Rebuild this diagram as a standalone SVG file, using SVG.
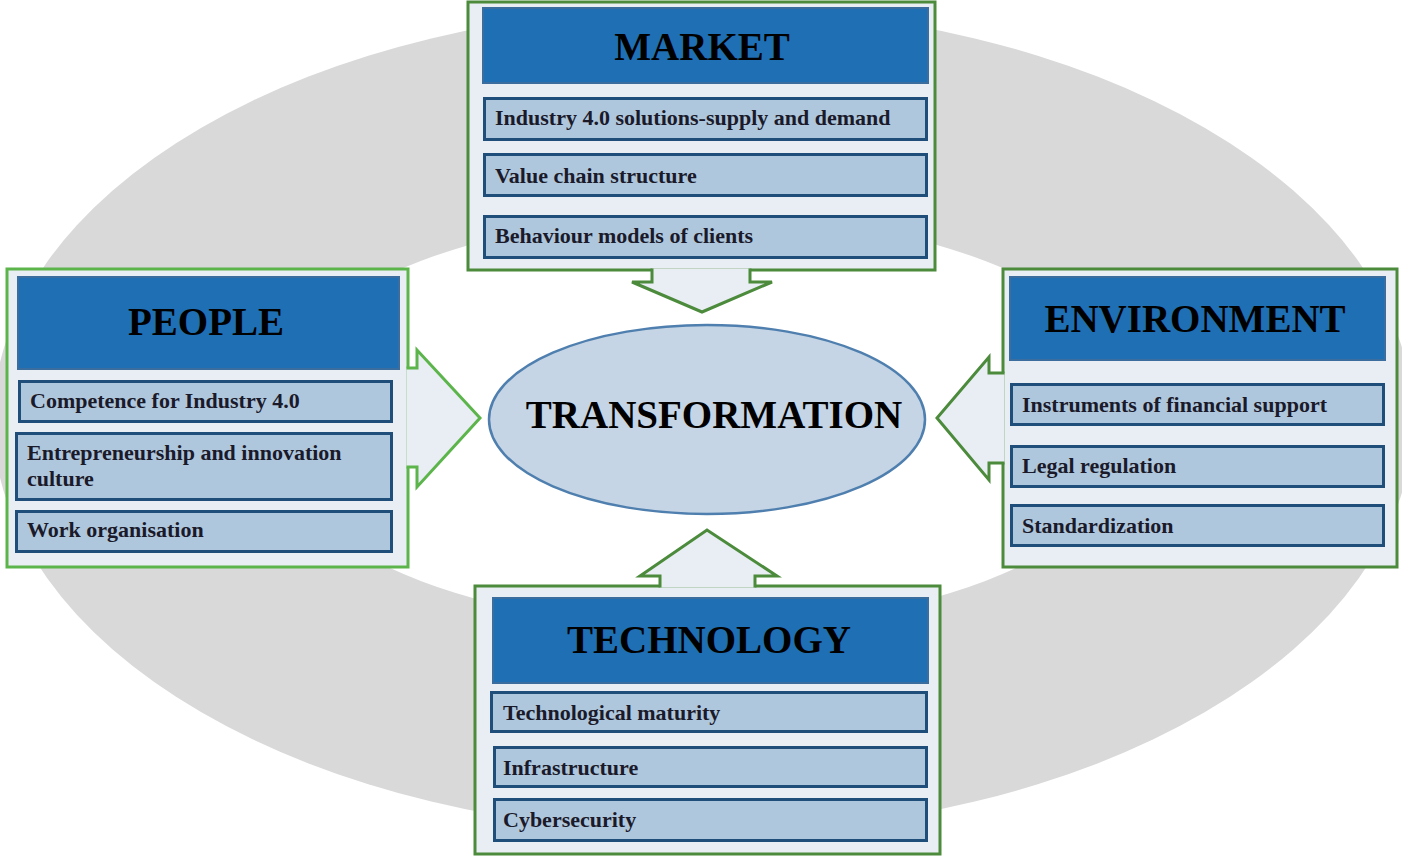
<svg xmlns="http://www.w3.org/2000/svg" width="1402" height="856" viewBox="0 0 1402 856">
<defs>
<style>
.ring{fill:#d9d9d9}
.hole{fill:#ffffff}
.panel{fill:#e9edf4;stroke-width:3}
.g1{stroke:#4b8b3b}
.g2{stroke:#5cb54a}
.hdr{fill:#1f6fb5;stroke:#3b6e9e;stroke-width:2}
.item{fill:#afc7dd;stroke:#1f4e7a;stroke-width:3}
.title{font-family:"Liberation Serif","Times New Roman",serif;font-weight:bold;font-size:39px;fill:#000;text-anchor:middle}
.txt{font-family:"Liberation Serif","Times New Roman",serif;font-weight:bold;font-size:22px;fill:#1a1a2a}
.arrow{fill:#e9edf4;stroke-width:3;stroke-linejoin:miter}
</style>
</defs>
<rect width="1402" height="856" fill="#ffffff"/>
<g id="background">
<ellipse class="ring" cx="703" cy="420" rx="710" ry="413"/>
<ellipse class="hole" cx="703" cy="421" rx="445" ry="207"/>
</g>
<g id="market">
<rect class="panel g1" x="468" y="2" width="467" height="268"/>
<rect class="hdr" x="483" y="8" width="445" height="75"/>
<text class="title" x="702" y="60">MARKET</text>
<rect class="item" x="484.5" y="98.5" width="442" height="41"/>
<text class="txt" x="495" y="125">Industry 4.0 solutions-supply and demand</text>
<rect class="item" x="484.5" y="154.5" width="442" height="41"/>
<text class="txt" x="495" y="183">Value chain structure</text>
<rect class="item" x="484.5" y="216.5" width="442" height="41"/>
<text class="txt" x="495" y="243">Behaviour models of clients</text>
</g>
<g id="people">
<rect class="panel g2" x="7" y="269" width="401" height="298"/>
<rect class="hdr" x="18" y="277" width="381" height="92"/>
<text class="title" x="206" y="335">PEOPLE</text>
<rect class="item" x="19.5" y="381.5" width="372" height="40"/>
<text class="txt" x="30" y="408">Competence for Industry 4.0</text>
<rect class="item" x="16.5" y="433.5" width="375" height="66"/>
<text class="txt" x="27" y="460">Entrepreneurship and innovation</text>
<text class="txt" x="27" y="486">culture</text>
<rect class="item" x="16.5" y="511.5" width="375" height="40"/>
<text class="txt" x="27" y="537">Work organisation</text>
</g>
<g id="environment">
<rect class="panel g1" x="1003" y="269" width="394" height="298"/>
<rect class="hdr" x="1010" y="277" width="375" height="83"/>
<text class="title" x="1195" y="332">ENVIRONMENT</text>
<rect class="item" x="1011.5" y="384.5" width="372" height="40"/>
<text class="txt" x="1022" y="412">Instruments of financial support</text>
<rect class="item" x="1011.5" y="446.5" width="372" height="40"/>
<text class="txt" x="1022" y="473">Legal regulation</text>
<rect class="item" x="1011.5" y="505.5" width="372" height="40"/>
<text class="txt" x="1022" y="533">Standardization</text>
</g>
<g id="technology">
<rect class="panel g1" x="475" y="586" width="465" height="268"/>
<rect class="hdr" x="493" y="598" width="435" height="85"/>
<text class="title" x="709" y="653">TECHNOLOGY</text>
<rect class="item" x="491.5" y="692.5" width="435" height="39"/>
<text class="txt" x="503" y="720">Technological maturity</text>
<rect class="item" x="494.5" y="747.5" width="432" height="39"/>
<text class="txt" x="503" y="775">Infrastructure</text>
<rect class="item" x="494.5" y="799.5" width="432" height="41"/>
<text class="txt" x="503" y="827">Cybersecurity</text>
</g>
<g id="transformation">
<ellipse cx="707" cy="419.5" rx="218" ry="94.5" fill="#c5d5e5" stroke="#4f7fae" stroke-width="2.5"/>
<text class="title" x="714" y="428">TRANSFORMATION</text>
</g>
<g id="connectors">
<path class="arrow g1" d="M652,268.5 V282 H632 L702,312 L772,282 H750 V268.5"/>
<path class="arrow g2" d="M406.5,368 H417 V350 L480,418 L417,487 V467 H406.5"/>
<path class="arrow g1" d="M1004.5,373 H989 V357 L937,418 L989,480 V463 H1004.5"/>
<path class="arrow g1" d="M660,587.5 V576 H640 L707,530 L777,576 H755 V587.5"/>
</g>
</svg>
